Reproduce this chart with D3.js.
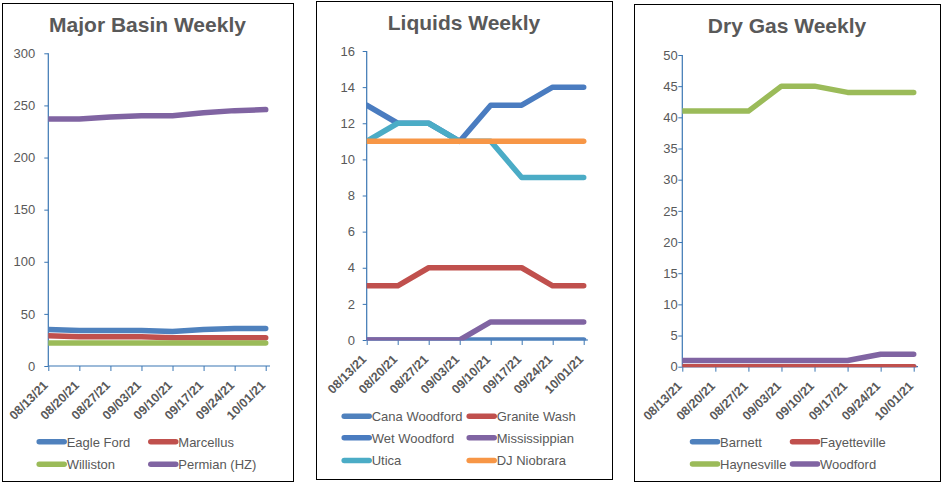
<!DOCTYPE html>
<html><head><meta charset="utf-8">
<script src="https://cdn.jsdelivr.net/npm/d3@7"></script>
<style>
body{margin:0;background:#fff;}
svg{display:block;font-family:"Liberation Sans",Arial,Helvetica,sans-serif;}
</style>
</head><body>
<svg id="chart" width="942" height="483"></svg>
<script>
// ---------- DATA ----------
const dates = ["08/13/21","08/20/21","08/27/21","09/03/21","09/10/21","09/17/21","09/24/21","10/01/21"];

// Major Basin Weekly
const majorTicks = [0,50,100,150,200,250,300];
const eagleFord  = [35,34,34,34,33,35,36,36];
const marcellus  = [29,28,28,28,27,27,27,27];
const williston  = [22,22,22,22,22,22,22,22];
const permianHZ  = [237,237,239,240,240,243,245,246];

// Liquids Weekly
const liquidsTicks  = [0,2,4,6,8,10,12,14,16];
const canaWoodford  = [0,0,0,0,0,0,0,0];
const graniteWash   = [3,3,4,4,4,4,3,3];
const wetWoodford   = [13,12,12,11,13,13,14,14];
const mississippian = [0,0,0,0,1,1,1,1];
const utica         = [11,12,12,11,11,9,9,9];
const djNiobrara    = [11,11,11,11,11,11,11,11];

// Dry Gas Weekly
const dryGasTicks  = [0,5,10,15,20,25,30,35,40,45,50];
const barnett      = [0,0,0,0,0,0,0,0];
const fayetteville = [0,0,0,0,0,0,0,0];
const haynesville  = [41,41,41,45,45,44,44,44];
const woodford     = [1,1,1,1,1,1,2,2];

// ---------- STYLE ----------
const C = {blue:"#4F81BD", red:"#C0504D", green:"#9BBB59", purple:"#8064A2", aqua:"#4BACC6", orange:"#F79646"};
const axisColor = "#3A76B3";
const textColor = "#595959";

const panels = [
  {
    box:[2,3,293,481], title:"Major Basin Weekly", titleY:32,
    left:48.3, right:265.7, top:53.3, bottom:366, axisEnd:270, labelGap:9,
    yTicks:majorTicks,
    series:[
      {name:"Eagle Ford", values:eagleFord, color:C.blue},
      {name:"Marcellus", values:marcellus, color:C.red},
      {name:"Williston", values:williston, color:C.green},
      {name:"Permian (HZ)", values:permianHZ, color:C.purple}
    ],
    legendCols:[36.7,148.3], legendRows:[441.7,464.3]
  },
  {
    box:[316,1,612,479], title:"Liquids Weekly", titleY:30,
    left:366.7, right:583.7, top:51, bottom:340, axisEnd:588, labelGap:7.7,
    yTicks:liquidsTicks,
    series:[
      {name:"Cana Woodford", values:canaWoodford, color:C.blue},
      {name:"Granite Wash", values:graniteWash, color:C.red},
      {name:"Wet Woodford", values:wetWoodford, color:"#4A7CC0"},
      {name:"Mississippian", values:mississippian, color:C.purple},
      {name:"Utica", values:utica, color:C.aqua},
      {name:"DJ Niobrara", values:djNiobrara, color:C.orange}
    ],
    legendCols:[341.7,466.7], legendRows:[416.3,437.7,460.5]
  },
  {
    box:[634,4,940,481], title:"Dry Gas Weekly", titleY:33,
    left:682.3, right:913.7, top:55, bottom:366.7, axisEnd:918, labelGap:0.5,
    yTicks:dryGasTicks,
    series:[
      {name:"Barnett", values:barnett, color:C.blue},
      {name:"Fayetteville", values:fayetteville, color:C.red},
      {name:"Haynesville", values:haynesville, color:C.green},
      {name:"Woodford", values:woodford, color:C.purple}
    ],
    legendCols:[690,790], legendRows:[441.7,464]
  }
];

const svg = d3.select("#chart");
svg.append("rect").attr("width",942).attr("height",483).attr("fill","#fff");
const defs = svg.append("defs");

panels.forEach((p, pi) => {
  const g = svg.append("g");
  const [bx0,by0,bx1,by1] = p.box;
  g.append("rect").attr("x",bx0+0.5).attr("y",by0+0.5)
    .attr("width",bx1-bx0).attr("height",by1-by0)
    .attr("fill","#fff").attr("stroke","#000").attr("stroke-width",1);

  g.append("text").attr("x",(bx0+bx1)/2).attr("y",p.titleY)
    .attr("text-anchor","middle").attr("font-size",21).attr("font-weight","bold")
    .attr("fill",textColor).text(p.title);

  const yMax = d3.max(p.yTicks);
  const x = d3.scalePoint().domain(dates).range([p.left,p.right]);
  const y = d3.scaleLinear().domain([0,yMax]).range([p.bottom,p.top]);

  // clip to plot area
  const clipId = "clip" + pi;
  defs.append("clipPath").attr("id",clipId).append("rect")
    .attr("x",p.left).attr("y",p.top - 6)
    .attr("width",p.axisEnd - p.left + 1).attr("height",p.bottom - p.top + 6.5);

  // Y axis
  const yAx = g.append("g").attr("transform",`translate(${p.left},0)`)
    .call(d3.axisLeft(y).tickValues(p.yTicks).tickSize(4).tickSizeOuter(0).tickPadding(p.labelGap).tickFormat(d3.format("d")));
  yAx.select(".domain").remove();
  yAx.selectAll(".tick line").attr("stroke",axisColor);
  yAx.selectAll(".tick text").attr("fill",textColor).attr("font-size",13)
     .attr("font-family","Liberation Sans, Arial, sans-serif");
  g.append("line").attr("x1",p.left).attr("x2",p.left).attr("y1",p.top).attr("y2",p.bottom)
    .attr("stroke",axisColor).attr("stroke-width",1.2);

  // X axis
  const xAx = g.append("g").attr("transform",`translate(0,${p.bottom})`)
    .call(d3.axisBottom(x).tickSize(5).tickSizeOuter(0));
  xAx.select(".domain").remove();
  xAx.selectAll(".tick line").attr("stroke",axisColor);
  xAx.selectAll(".tick text")
    .attr("fill",textColor).attr("font-size",12.5).attr("font-weight","bold")
    .attr("font-family","Liberation Sans, Arial, sans-serif")
    .attr("text-anchor","end").attr("dy",null).attr("y",null)
    .attr("transform","translate(0,20) rotate(-45)");
  g.append("line").attr("x1",p.left).attr("x2",p.axisEnd).attr("y1",p.bottom).attr("y2",p.bottom)
    .attr("stroke",axisColor).attr("stroke-width",1.2);

  // Lines
  const line = d3.line().x((d,i)=>x(dates[i])).y(d=>y(d));
  const lg = g.append("g").attr("clip-path",`url(#${clipId})`);
  p.series.forEach(s => {
    lg.append("path").datum(s.values).attr("d",line)
      .attr("fill","none").attr("stroke",s.color).attr("stroke-width",5.5)
      .attr("stroke-linecap","round").attr("stroke-linejoin","round");
  });

  // Legend
  p.series.forEach((s,i) => {
    const cx = p.legendCols[i % 2];
    const cy = p.legendRows[Math.floor(i / 2)];
    g.append("line").attr("x1",cx+2.5).attr("x2",cx+27.5).attr("y1",cy).attr("y2",cy)
      .attr("stroke",s.color).attr("stroke-width",5.5).attr("stroke-linecap","round");
    g.append("text").attr("x",cx+30).attr("y",cy+4.8)
      .attr("font-size",13).attr("fill",textColor).text(s.name);
  });
});
</script>
</body></html>
